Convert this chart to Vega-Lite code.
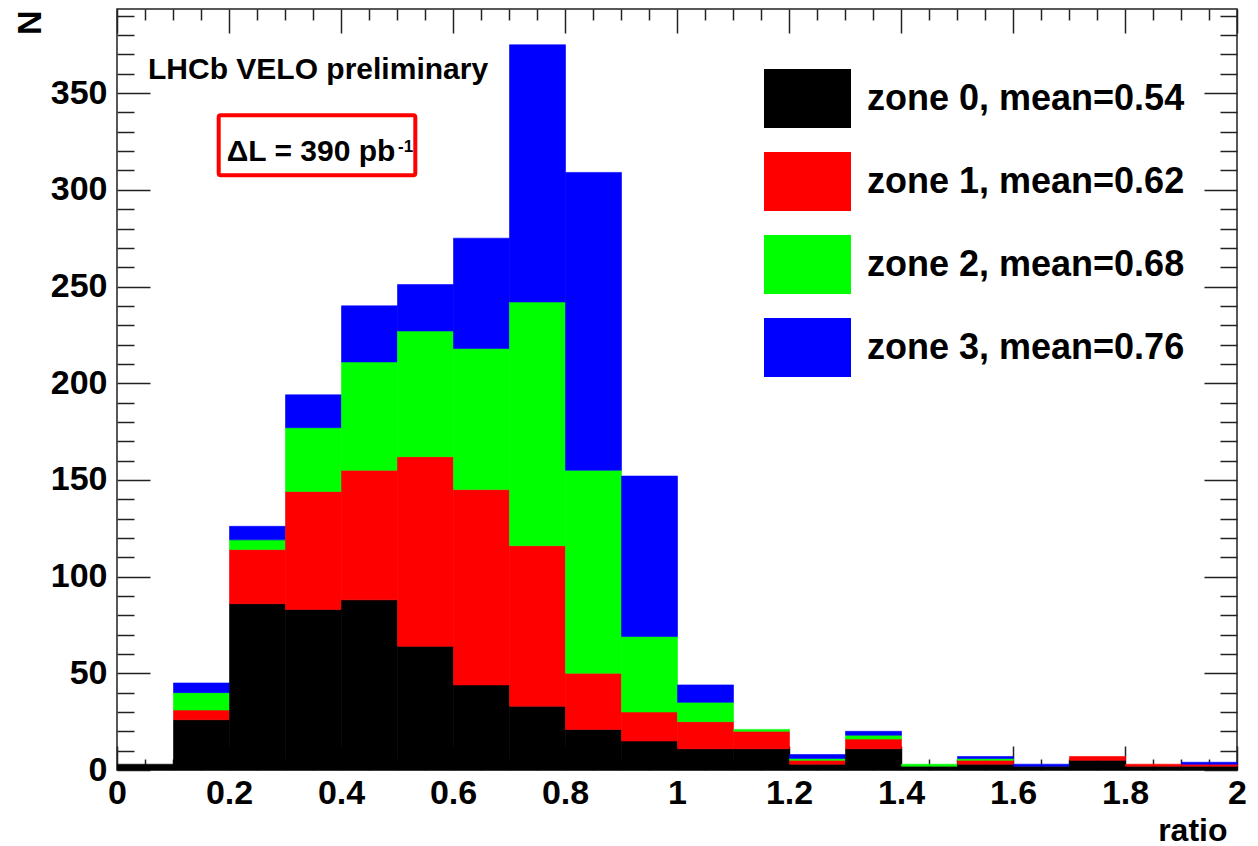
{
  "$schema": "https://vega.github.io/schema/vega-lite/v6.json",
  "width": 1120,
  "height": 761,
  "autosize": {"type": "none"},
  "padding": {"left": 117, "top": 9, "right": 21, "bottom": 76},
  "background": "white",
  "config": {
    "view": {"stroke": "#222222", "strokeWidth": 1.5},
    "font": "Liberation Sans",
    "axis": {
      "grid": false,
      "domain": false,
      "labelFont": "Liberation Sans",
      "labelFontWeight": "bold",
      "labelColor": "black",
      "tickColor": "#222222",
      "tickWidth": 1.5,
      "titleFont": "Liberation Sans",
      "titleFontWeight": "bold",
      "titleColor": "black"
    }
  },
  "resolve": {"axis": {"x": "independent", "y": "independent"}},
  "layer": [
    {
      "data": {
        "values": [
          {"lo": 0.0, "hi": 0.1, "zone": "zone 0, mean=0.54", "n": 3},
          {"lo": 0.1, "hi": 0.2, "zone": "zone 0, mean=0.54", "n": 26},
          {"lo": 0.1, "hi": 0.2, "zone": "zone 1, mean=0.62", "n": 5},
          {"lo": 0.1, "hi": 0.2, "zone": "zone 2, mean=0.68", "n": 9},
          {"lo": 0.1, "hi": 0.2, "zone": "zone 3, mean=0.76", "n": 5},
          {"lo": 0.2, "hi": 0.3, "zone": "zone 0, mean=0.54", "n": 86},
          {"lo": 0.2, "hi": 0.3, "zone": "zone 1, mean=0.62", "n": 28},
          {"lo": 0.2, "hi": 0.3, "zone": "zone 2, mean=0.68", "n": 5},
          {"lo": 0.2, "hi": 0.3, "zone": "zone 3, mean=0.76", "n": 7},
          {"lo": 0.3, "hi": 0.4, "zone": "zone 0, mean=0.54", "n": 83},
          {"lo": 0.3, "hi": 0.4, "zone": "zone 1, mean=0.62", "n": 61},
          {"lo": 0.3, "hi": 0.4, "zone": "zone 2, mean=0.68", "n": 33},
          {"lo": 0.3, "hi": 0.4, "zone": "zone 3, mean=0.76", "n": 17},
          {"lo": 0.4, "hi": 0.5, "zone": "zone 0, mean=0.54", "n": 88},
          {"lo": 0.4, "hi": 0.5, "zone": "zone 1, mean=0.62", "n": 67},
          {"lo": 0.4, "hi": 0.5, "zone": "zone 2, mean=0.68", "n": 56},
          {"lo": 0.4, "hi": 0.5, "zone": "zone 3, mean=0.76", "n": 29},
          {"lo": 0.5, "hi": 0.6, "zone": "zone 0, mean=0.54", "n": 64},
          {"lo": 0.5, "hi": 0.6, "zone": "zone 1, mean=0.62", "n": 98},
          {"lo": 0.5, "hi": 0.6, "zone": "zone 2, mean=0.68", "n": 65},
          {"lo": 0.5, "hi": 0.6, "zone": "zone 3, mean=0.76", "n": 24},
          {"lo": 0.6, "hi": 0.7, "zone": "zone 0, mean=0.54", "n": 44},
          {"lo": 0.6, "hi": 0.7, "zone": "zone 1, mean=0.62", "n": 101},
          {"lo": 0.6, "hi": 0.7, "zone": "zone 2, mean=0.68", "n": 73},
          {"lo": 0.6, "hi": 0.7, "zone": "zone 3, mean=0.76", "n": 57},
          {"lo": 0.7, "hi": 0.8, "zone": "zone 0, mean=0.54", "n": 33},
          {"lo": 0.7, "hi": 0.8, "zone": "zone 1, mean=0.62", "n": 83},
          {"lo": 0.7, "hi": 0.8, "zone": "zone 2, mean=0.68", "n": 126},
          {"lo": 0.7, "hi": 0.8, "zone": "zone 3, mean=0.76", "n": 133},
          {"lo": 0.8, "hi": 0.9, "zone": "zone 0, mean=0.54", "n": 21},
          {"lo": 0.8, "hi": 0.9, "zone": "zone 1, mean=0.62", "n": 29},
          {"lo": 0.8, "hi": 0.9, "zone": "zone 2, mean=0.68", "n": 105},
          {"lo": 0.8, "hi": 0.9, "zone": "zone 3, mean=0.76", "n": 154},
          {"lo": 0.9, "hi": 1.0, "zone": "zone 0, mean=0.54", "n": 15},
          {"lo": 0.9, "hi": 1.0, "zone": "zone 1, mean=0.62", "n": 15},
          {"lo": 0.9, "hi": 1.0, "zone": "zone 2, mean=0.68", "n": 39},
          {"lo": 0.9, "hi": 1.0, "zone": "zone 3, mean=0.76", "n": 83},
          {"lo": 1.0, "hi": 1.1, "zone": "zone 0, mean=0.54", "n": 11},
          {"lo": 1.0, "hi": 1.1, "zone": "zone 1, mean=0.62", "n": 14},
          {"lo": 1.0, "hi": 1.1, "zone": "zone 2, mean=0.68", "n": 10},
          {"lo": 1.0, "hi": 1.1, "zone": "zone 3, mean=0.76", "n": 9},
          {"lo": 1.1, "hi": 1.2, "zone": "zone 0, mean=0.54", "n": 11},
          {"lo": 1.1, "hi": 1.2, "zone": "zone 1, mean=0.62", "n": 9},
          {"lo": 1.1, "hi": 1.2, "zone": "zone 2, mean=0.68", "n": 1},
          {"lo": 1.2, "hi": 1.3, "zone": "zone 0, mean=0.54", "n": 3},
          {"lo": 1.2, "hi": 1.3, "zone": "zone 1, mean=0.62", "n": 2},
          {"lo": 1.2, "hi": 1.3, "zone": "zone 2, mean=0.68", "n": 1},
          {"lo": 1.2, "hi": 1.3, "zone": "zone 3, mean=0.76", "n": 2},
          {"lo": 1.3, "hi": 1.4, "zone": "zone 0, mean=0.54", "n": 11},
          {"lo": 1.3, "hi": 1.4, "zone": "zone 1, mean=0.62", "n": 5},
          {"lo": 1.3, "hi": 1.4, "zone": "zone 2, mean=0.68", "n": 2},
          {"lo": 1.3, "hi": 1.4, "zone": "zone 3, mean=0.76", "n": 2},
          {"lo": 1.4, "hi": 1.5, "zone": "zone 0, mean=0.54", "n": 2},
          {"lo": 1.4, "hi": 1.5, "zone": "zone 2, mean=0.68", "n": 1},
          {"lo": 1.5, "hi": 1.6, "zone": "zone 0, mean=0.54", "n": 3},
          {"lo": 1.5, "hi": 1.6, "zone": "zone 1, mean=0.62", "n": 2},
          {"lo": 1.5, "hi": 1.6, "zone": "zone 2, mean=0.68", "n": 1},
          {"lo": 1.5, "hi": 1.6, "zone": "zone 3, mean=0.76", "n": 1},
          {"lo": 1.6, "hi": 1.7, "zone": "zone 0, mean=0.54", "n": 2},
          {"lo": 1.6, "hi": 1.7, "zone": "zone 3, mean=0.76", "n": 1},
          {"lo": 1.7, "hi": 1.8, "zone": "zone 0, mean=0.54", "n": 5},
          {"lo": 1.7, "hi": 1.8, "zone": "zone 1, mean=0.62", "n": 2},
          {"lo": 1.8, "hi": 1.9, "zone": "zone 0, mean=0.54", "n": 2},
          {"lo": 1.8, "hi": 1.9, "zone": "zone 1, mean=0.62", "n": 1},
          {"lo": 1.9, "hi": 2.0, "zone": "zone 0, mean=0.54", "n": 2},
          {"lo": 1.9, "hi": 2.0, "zone": "zone 1, mean=0.62", "n": 1},
          {"lo": 1.9, "hi": 2.0, "zone": "zone 3, mean=0.76", "n": 1}
        ]
      },
      "mark": {"type": "bar", "binSpacing": 0, "strokeWidth": 0.6},
      "encoding": {
        "x": {
          "field": "lo",
          "type": "quantitative",
          "bin": "binned",
          "scale": {"domain": [0, 2], "nice": false, "zero": false},
          "axis": {
            "orient": "bottom",
            "values": [0, 0.2, 0.4, 0.6, 0.8, 1, 1.2, 1.4, 1.6, 1.8, 2],
            "format": "~g",
            "ticks": false,
            "labelFontSize": 34,
            "labelPadding": 6,
            "labelFlush": false,
            "labelOverlap": false,
            "title": "ratio",
            "titleFontSize": 32,
            "titleX": 1110,
            "titleY": 70,
            "titleAlign": "right",
            "titleBaseline": "alphabetic"
          }
        },
        "x2": {"field": "hi"},
        "y": {
          "field": "n",
          "type": "quantitative",
          "stack": "zero",
          "scale": {"domain": [0, 393.5], "nice": false},
          "axis": {
            "orient": "left",
            "values": [0, 50, 100, 150, 200, 250, 300, 350],
            "ticks": false,
            "labelFontSize": 34,
            "labelPadding": 10,
            "labelOverlap": false,
            "title": "N",
            "titleFontSize": 34,
            "titleAngle": 270,
            "titleX": -77,
            "titleY": 1,
            "titleAlign": "right",
            "titleBaseline": "alphabetic"
          }
        },
        "color": {
          "field": "zone",
          "type": "nominal",
          "scale": {
            "domain": ["zone 0, mean=0.54", "zone 1, mean=0.62", "zone 2, mean=0.68", "zone 3, mean=0.76"],
            "range": ["#000000", "#ff0000", "#00ff00", "#0000ff"]
          },
          "legend": {
            "orient": "none",
            "legendX": 647,
            "legendY": 46,
            "direction": "vertical",
            "title": null,
            "padding": 0,
            "symbolType": "M-1,-0.678H1V0.678H-1Z",
            "symbolSize": 7569,
            "symbolStrokeWidth": 0,
            "symbolOpacity": 1,
            "labelFont": "Liberation Sans",
            "labelFontWeight": "bold",
            "labelFontSize": 36,
            "labelColor": "black",
            "labelOffset": 16,
            "labelLimit": 0,
            "rowPadding": 10
          }
        },
        "stroke": {
          "field": "zone",
          "type": "nominal",
          "scale": {
            "domain": ["zone 0, mean=0.54", "zone 1, mean=0.62", "zone 2, mean=0.68", "zone 3, mean=0.76"],
            "range": ["#000000", "#ff0000", "#00ff00", "#0000ff"]
          },
          "legend": null
        },
        "order": {"field": "zone", "sort": "ascending"}
      }
    },
    {
      "data": {"values": [{}]},
      "mark": {"type": "rect", "fill": "white", "stroke": "#ff0000", "strokeWidth": 4, "cornerRadius": 2},
      "encoding": {
        "x": {
          "datum": 0.1816,
          "type": "quantitative",
          "scale": {"domain": [0, 2], "nice": false, "zero": false},
          "axis": {"orient": "bottom", "values": [0, 0.2, 0.4, 0.6, 0.8, 1, 1.2, 1.4, 1.6, 1.8, 2], "labels": false, "tickSize": -24, "title": null}
        },
        "x2": {"datum": 0.5327},
        "y": {
          "datum": 338.6,
          "type": "quantitative",
          "scale": {"domain": [0, 393.5], "nice": false},
          "axis": {"orient": "left", "values": [0, 50, 100, 150, 200, 250, 300, 350], "labels": false, "tickSize": -33, "title": null}
        },
        "y2": {"datum": 307.5}
      }
    },
    {
      "data": {"values": [{}]},
      "mark": {"type": "text", "text": "LHCb VELO preliminary", "font": "Liberation Sans", "fontWeight": "bold", "fontSize": 30, "align": "left", "baseline": "alphabetic", "color": "black"},
      "encoding": {
        "x": {
          "datum": 0.0554,
          "type": "quantitative",
          "scale": {"domain": [0, 2], "nice": false, "zero": false},
          "axis": {"orient": "bottom", "values": [0.05, 0.1, 0.15, 0.25, 0.3, 0.35, 0.45, 0.5, 0.55, 0.65, 0.7, 0.75, 0.85, 0.9, 0.95, 1.05, 1.1, 1.15, 1.25, 1.3, 1.35, 1.45, 1.5, 1.55, 1.65, 1.7, 1.75, 1.85, 1.9, 1.95], "labels": false, "tickSize": -11, "title": null}
        },
        "y": {
          "datum": 357.4,
          "type": "quantitative",
          "scale": {"domain": [0, 393.5], "nice": false},
          "axis": {"orient": "left", "values": [10, 20, 30, 40, 60, 70, 80, 90, 110, 120, 130, 140, 160, 170, 180, 190, 210, 220, 230, 240, 260, 270, 280, 290, 310, 320, 330, 340, 360, 370, 380, 390], "labels": false, "tickSize": -17, "title": null}
        }
      }
    },
    {
      "data": {"values": [{}]},
      "mark": {"type": "text", "text": "ΔL = 390 pb", "font": "Liberation Sans", "fontWeight": "bold", "fontSize": 30, "align": "left", "baseline": "alphabetic", "color": "black"},
      "encoding": {
        "x": {
          "datum": 0.196,
          "type": "quantitative",
          "scale": {"domain": [0, 2], "nice": false, "zero": false},
          "axis": {"orient": "top", "values": [0, 0.2, 0.4, 0.6, 0.8, 1, 1.2, 1.4, 1.6, 1.8, 2], "labels": false, "tickSize": -24, "title": null}
        },
        "y": {
          "datum": 315.1,
          "type": "quantitative",
          "scale": {"domain": [0, 393.5], "nice": false},
          "axis": {"orient": "right", "values": [0, 50, 100, 150, 200, 250, 300, 350], "labels": false, "tickSize": -33, "title": null}
        }
      }
    },
    {
      "data": {"values": [{}]},
      "mark": {"type": "text", "text": "-1", "font": "Liberation Sans", "fontWeight": "bold", "fontSize": 17, "align": "left", "baseline": "alphabetic", "color": "black"},
      "encoding": {
        "x": {
          "datum": 0.502,
          "type": "quantitative",
          "scale": {"domain": [0, 2], "nice": false, "zero": false},
          "axis": {"orient": "top", "values": [0.05, 0.1, 0.15, 0.25, 0.3, 0.35, 0.45, 0.5, 0.55, 0.65, 0.7, 0.75, 0.85, 0.9, 0.95, 1.05, 1.1, 1.15, 1.25, 1.3, 1.35, 1.45, 1.5, 1.55, 1.65, 1.7, 1.75, 1.85, 1.9, 1.95], "labels": false, "tickSize": -11, "title": null}
        },
        "y": {
          "datum": 319.4,
          "type": "quantitative",
          "scale": {"domain": [0, 393.5], "nice": false},
          "axis": {"orient": "right", "values": [10, 20, 30, 40, 60, 70, 80, 90, 110, 120, 130, 140, 160, 170, 180, 190, 210, 220, 230, 240, 260, 270, 280, 290, 310, 320, 330, 340, 360, 370, 380, 390], "labels": false, "tickSize": -17, "title": null}
        }
      }
    }
  ]
}
